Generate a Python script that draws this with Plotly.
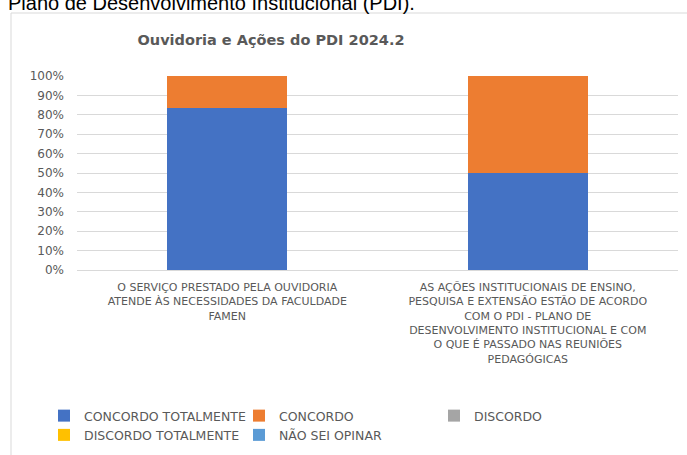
import plotly.graph_objects as go

categories = [
    "O SERVIÇO PRESTADO PELA OUVIDORIA<br>ATENDE ÀS NECESSIDADES DA FACULDADE<br>FAMEN",
    "AS AÇÕES INSTITUCIONAIS DE ENSINO,<br>PESQUISA E EXTENSÃO ESTÃO DE ACORDO<br>COM O PDI - PLANO DE<br>DESENVOLVIMENTO INSTITUCIONAL E COM<br>O QUE É PASSADO NAS REUNIÕES<br>PEDAGÓGICAS",
]
series_names = ["CONCORDO TOTALMENTE", "CONCORDO", "DISCORDO", "DISCORDO TOTALMENTE", "NÃO SEI OPINAR"]
concordo_totalmente = [0.833, 0.50]
concordo = [0.167, 0.50]
discordo = [0.0, 0.0]
discordo_totalmente = [0.0, 0.0]
nao_sei_opinar = [0.0, 0.0]
series_values = [concordo_totalmente, concordo, discordo, discordo_totalmente, nao_sei_opinar]
colors = ["#4472C4", "#ED7D31", "#A5A5A5", "#FFC000", "#5B9BD5"]
y_ticks = [i / 10 for i in range(11)]

W, H = 687, 455
L, R, T, B = 77, 9, 76, 185
PW = W - L - R
PH = H - T - B

def px_x(X):
    return (X - L) / PW

def px_y(Y):
    return (H - B - Y) / PH

FONT = "DejaVu Sans"
GRAY = "#595959"

fig = go.Figure()
for name, vals, col in zip(series_names, series_values, colors):
    fig.add_trace(go.Bar(x=categories, y=vals, name=name, marker_color=col,
                         marker_line_width=0))

fig.update_layout(
    width=W, height=H,
    barmode="stack", bargap=0.6,
    plot_bgcolor="white", paper_bgcolor="white",
    margin=dict(l=L, r=R, t=T, b=B, autoexpand=False),
    font=dict(family=FONT, color=GRAY),
    title=dict(text="<b>Ouvidoria e Ações do PDI 2024.2</b>", x=271 / W, xref="container",
               xanchor="center", y=1 - 40 / H, yref="container", yanchor="middle",
               font=dict(family=FONT, size=14.5, color=GRAY)),
    legend=dict(orientation="h", x=px_x(44), xanchor="left", y=px_y(401), yanchor="top",
                entrywidth=150, entrywidthmode="pixels", tracegroupgap=0,
                font=dict(family=FONT, size=12.5, color=GRAY), traceorder="normal"),
    showlegend=True,
)
fig.update_xaxes(showgrid=False, showline=False, ticks="", ticklabelstandoff=9,
                 tickfont=dict(family=FONT, size=11, color=GRAY))
fig.update_yaxes(range=[0, 1], tickvals=y_ticks, tickformat=".0%", showgrid=True, gridcolor="#D9D9D9",
                 gridwidth=1, zeroline=True, zerolinecolor="#D9D9D9", zerolinewidth=1,
                 ticklabelstandoff=12, tickfont=dict(family=FONT, size=12, color=GRAY))

# chart border box
fig.add_shape(type="rect", xref="paper", yref="paper", x0=px_x(11), x1=px_x(900),
              y0=px_y(900), y1=px_y(13), line=dict(color="#D9D9D9", width=1), fillcolor="rgba(0,0,0,0)",
              layer="below")

# partial document text at top
fig.add_annotation(text="Plano de Desenvolvimento Institucional (PDI).", xref="paper", yref="paper",
                   x=px_x(6), xanchor="left", y=px_y(16), yanchor="bottom", showarrow=False,
                   font=dict(family="Liberation Sans", size=20, color="black"))

fig.write_html("out.html", config={"displayModeBar": False},
               post_script="document.body.style.margin='0';document.body.style.overflow='hidden';")
